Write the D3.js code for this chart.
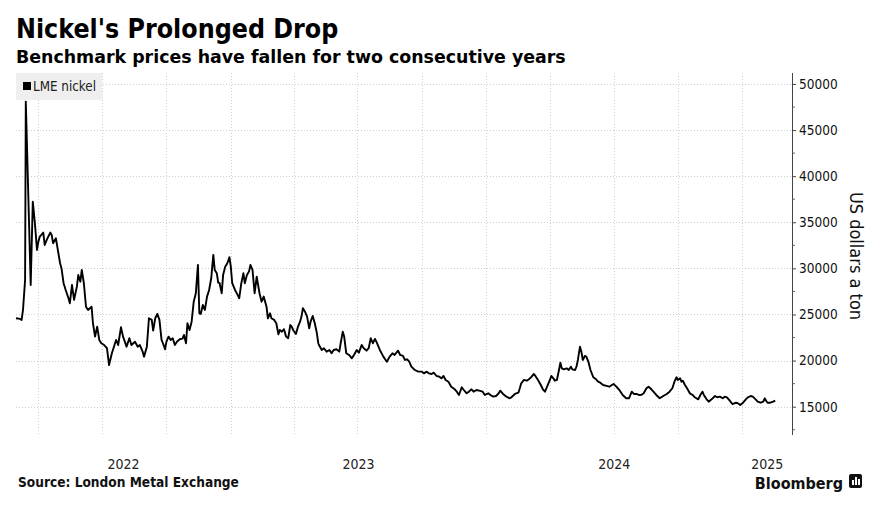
<!DOCTYPE html>
<html>
<head>
<meta charset="utf-8">
<script src="https://cdn.jsdelivr.net/npm/d3@7"></script>
<style>
  html, body { margin: 0; padding: 0; background: #fff; }
  svg { display: block; }
  .cond { font-family: "DejaVu Sans Condensed", "DejaVu Sans", sans-serif; font-stretch: condensed; }
  .norm { font-family: "DejaVu Sans", sans-serif; }
</style>
</head>
<body>
<svg id="chart" width="890" height="516"></svg>
<script>
const title = "Nickel's Prolonged Drop";
const subtitle = "Benchmark prices have fallen for two consecutive years";
const seriesName = "LME nickel";
const yAxisTitle = "US dollars a ton";
const sourceText = "Source: London Metal Exchange";

const dates = [
"2022-02-28","2022-03-06","2022-03-08","2022-03-10","2022-03-13","2022-03-14","2022-03-21","2022-03-24","2022-03-27","2022-03-30",
"2022-04-01","2022-04-03","2022-04-08","2022-04-10","2022-04-14","2022-04-18","2022-04-20","2022-04-22","2022-04-26","2022-04-28",
"2022-05-02","2022-05-04","2022-05-07","2022-05-10","2022-05-14","2022-05-16","2022-05-19","2022-05-22","2022-05-26","2022-05-28",
"2022-05-31","2022-06-02","2022-06-05","2022-06-08","2022-06-11","2022-06-16","2022-06-18","2022-06-21","2022-06-24","2022-06-27",
"2022-06-30","2022-07-04","2022-07-08","2022-07-11","2022-07-15","2022-07-18","2022-07-21","2022-07-24","2022-07-28","2022-07-31",
"2022-08-05","2022-08-09","2022-08-12","2022-08-17","2022-08-21","2022-08-24","2022-08-28","2022-08-30","2022-09-03","2022-09-06",
"2022-09-10","2022-09-12","2022-09-15","2022-09-18","2022-09-21","2022-09-24","2022-09-26","2022-09-29","2022-10-01","2022-10-04",
"2022-10-07","2022-10-10","2022-10-13","2022-10-16","2022-10-20","2022-10-24","2022-10-26","2022-10-29","2022-10-31","2022-11-03",
"2022-11-06","2022-11-09","2022-11-12","2022-11-15","2022-11-17","2022-11-19","2022-11-22","2022-11-25","2022-11-28","2022-12-01",
"2022-12-04","2022-12-07","2022-12-09","2022-12-12","2022-12-14","2022-12-16","2022-12-19","2022-12-21","2022-12-24","2022-12-27",
"2022-12-30","2023-01-01","2023-01-03","2023-01-07","2023-01-10","2023-01-13","2023-01-16","2023-01-19","2023-01-21","2023-01-24",
"2023-01-27","2023-01-29","2023-02-01","2023-02-04","2023-02-07","2023-02-11","2023-02-14","2023-02-17","2023-02-21","2023-02-23",
"2023-02-26","2023-02-28","2023-03-04","2023-03-07","2023-03-10","2023-03-12","2023-03-15","2023-03-18","2023-03-21","2023-03-24",
"2023-03-27","2023-03-29","2023-03-31","2023-04-04","2023-04-07","2023-04-10","2023-04-12","2023-04-14","2023-04-17","2023-04-20",
"2023-04-23","2023-04-25","2023-04-28","2023-05-01","2023-05-04","2023-05-06","2023-05-07","2023-05-11","2023-05-14","2023-05-18",
"2023-05-22","2023-05-25","2023-05-28","2023-06-01","2023-06-05","2023-06-07","2023-06-10","2023-06-12","2023-06-15","2023-06-19",
"2023-06-23","2023-06-26","2023-06-30","2023-07-03","2023-07-07","2023-07-10","2023-07-14","2023-07-17","2023-07-20","2023-07-23",
"2023-07-26","2023-07-28","2023-08-02","2023-08-07","2023-08-12","2023-08-16","2023-08-20","2023-08-23","2023-08-28","2023-08-31",
"2023-09-04","2023-09-07","2023-09-10","2023-09-13","2023-09-16","2023-09-21","2023-09-26","2023-10-01","2023-10-04","2023-10-08",
"2023-10-11","2023-10-15","2023-10-18","2023-10-22","2023-10-26","2023-10-29","2023-11-01","2023-11-04","2023-11-08","2023-11-12",
"2023-11-17","2023-11-20","2023-11-23","2023-11-27","2023-11-30","2023-12-04","2023-12-07","2023-12-11","2023-12-14","2023-12-18",
"2023-12-22","2023-12-27","2023-12-30","2024-01-04","2024-01-07","2024-01-11","2024-01-15","2024-01-18","2024-01-21","2024-01-25",
"2024-01-30","2024-02-03","2024-02-06","2024-02-11","2024-02-16","2024-02-18","2024-02-20","2024-02-24","2024-02-28","2024-03-02",
"2024-03-06","2024-03-09","2024-03-12","2024-03-15","2024-03-19","2024-03-22","2024-03-25","2024-03-28","2024-04-01","2024-04-03",
"2024-04-06","2024-04-08","2024-04-11","2024-04-14","2024-04-16","2024-04-18","2024-04-21","2024-04-25","2024-04-28","2024-05-01",
"2024-05-03","2024-05-07","2024-05-09","2024-05-11","2024-05-14","2024-05-16","2024-05-18","2024-05-21","2024-05-23","2024-05-26",
"2024-05-29","2024-06-02","2024-06-06","2024-06-09","2024-06-12","2024-06-16","2024-06-21","2024-06-25","2024-06-28","2024-07-01",
"2024-07-05","2024-07-10","2024-07-14","2024-07-19","2024-07-23","2024-07-27","2024-07-30","2024-08-03","2024-08-06","2024-08-10",
"2024-08-13","2024-08-17","2024-08-20","2024-08-24","2024-08-27","2024-08-31","2024-09-05","2024-09-10","2024-09-15","2024-09-19",
"2024-09-23","2024-09-26","2024-09-29","2024-10-01","2024-10-04","2024-10-06","2024-10-08","2024-10-11","2024-10-14","2024-10-18",
"2024-10-22","2024-10-25","2024-10-30","2024-11-02","2024-11-05","2024-11-07","2024-11-11","2024-11-14","2024-11-18","2024-11-23",
"2024-11-26","2024-11-30","2024-12-04","2024-12-07","2024-12-10","2024-12-14","2024-12-18","2024-12-23","2024-12-26","2024-12-29",
"2025-01-02","2025-01-06","2025-01-09","2025-01-13","2025-01-16","2025-01-20","2025-01-23","2025-01-27","2025-01-31","2025-02-02",
"2025-02-04","2025-02-06","2025-02-10","2025-02-14","2025-02-17"
];

const prices = [
24590,24520,24400,25490,28750,48090,28200,37240,34900,32000,
32900,33450,33880,32540,33270,33880,33630,32730,33270,32360,
30560,30020,28390,27660,26760,26220,28200,26580,28020,29290,
28560,29830,28390,25850,25490,25850,24050,22600,23680,22240,
21880,21690,21340,19520,20790,21510,22240,21690,23610,22600,
21510,22420,21690,22050,21510,21690,20970,20430,21510,24590,
24410,23250,24590,25060,24410,22240,21880,21230,22050,22600,
22240,22420,21690,22050,22310,22380,22780,21880,24050,23320,
24220,26390,27300,30370,25130,25060,26030,25490,26940,27660,
28930,31460,29830,29470,28460,28390,27300,29290,30190,30560,
31210,30190,28390,27660,27230,26760,28390,29470,28390,29290,
29650,30370,29830,27300,29110,27300,26390,26940,25850,24590,
25130,24590,24410,24050,22860,23320,23140,23400,22600,22420,
23860,23680,23320,22890,23680,24220,24770,25680,25310,24770,
23510,24220,24840,24050,22960,21880,21690,21150,21340,20970,
21150,20790,21150,21230,20970,21880,23140,22600,20790,20610,
20250,20610,21150,20860,21690,21340,21080,21340,22420,21880,
22350,22050,21150,20430,19880,20430,20790,20610,21080,20610,
20500,20070,20140,19880,19340,18980,18800,18800,18620,18800,
18620,18550,18690,18330,18260,18080,18330,17900,17710,17170,
16890,16630,16270,17100,16810,16450,16630,16890,16630,16810,
16740,16630,16270,16450,16270,16090,16160,16380,16740,16380,
16090,15910,16020,16380,16520,17000,17540,17900,17820,17970,
18260,18550,18260,17900,17350,16890,16630,17170,17900,18330,
18080,17820,17900,18980,19770,19160,19050,19160,18980,19340,
19050,18980,19340,20070,21510,20970,20070,20500,20430,19880,
18980,18190,17970,17710,17600,17350,17250,17170,17320,17460,
17170,16740,16270,15910,15910,16630,16380,16380,16270,16300,
16450,17000,17170,16890,16630,16270,15910,16160,16380,16630,
17000,17710,18190,17900,18080,17710,17820,17350,17000,16450,
16270,16020,15800,16270,16630,16270,15800,15540,15800,16160,
16020,16090,15910,16090,16020,15650,15290,15430,15360,15180,
15430,15800,16020,16160,16090,15800,15540,15430,15540,15910,
15650,15430,15430,15540,15650
];

const xDomain = ["2022-02-28", "2025-03-13"];
const yDomain = [11930, 51190];
const yTickValues = [15000, 20000, 25000, 30000, 35000, 40000, 45000, 50000];
const yMinorTickValues = [12500, 17500, 22500, 27500, 32500, 37500, 42500, 47500];
const yearLabels = ["2022", "2023", "2024", "2025"];

const parse = d3.utcParse("%Y-%m-%d");
const data = dates.map((d, i) => ({ date: parse(d), value: prices[i] }));

const svg = d3.select("#chart");
const W = 890, H = 516;
const plot = { left: 16, right: 792, top: 73, bottom: 435 };

svg.append("rect").attr("width", W).attr("height", H).attr("fill", "#fff");

const x = d3.scaleUtc().domain(xDomain.map(parse)).range([plot.left, plot.right]);
const y = d3.scaleLinear().domain(yDomain).range([plot.bottom, plot.top]);

// Titles
svg.append("text").attr("class", "cond")
  .attr("x", 16).attr("y", 38)
  .attr("font-size", 26.5).attr("font-weight", "bold").attr("fill", "#000")
  .text(title);
svg.append("text").attr("class", "norm")
  .attr("x", 16).attr("y", 63)
  .attr("font-size", 17.4).attr("font-weight", "bold").attr("fill", "#000")
  .text(subtitle);

// Gridlines
const grid = svg.append("g");
grid.selectAll("line.h").data(yTickValues).join("line")
  .attr("class", "h")
  .attr("x1", plot.left).attr("x2", plot.right)
  .attr("y1", d => Math.round(y(d)) + 0.5).attr("y2", d => Math.round(y(d)) + 0.5)
  .attr("stroke", "#cfcfcf").attr("stroke-width", 1).attr("stroke-dasharray", "1,2");

const quarters = d3.utcMonth.every(3).range(x.domain()[0], x.domain()[1]);
grid.selectAll("line.v").data(quarters).join("line")
  .attr("class", "v")
  .attr("x1", d => Math.round(x(d)) + 0.5).attr("x2", d => Math.round(x(d)) + 0.5)
  .attr("y1", plot.top).attr("y2", plot.bottom)
  .attr("stroke", "#cfcfcf").attr("stroke-width", 1).attr("stroke-dasharray", "1,2");

// Legend
const leg = svg.append("g");
leg.append("rect").attr("x", 16).attr("y", 73).attr("width", 86).attr("height", 27).attr("fill", "#efefef");
leg.append("rect").attr("x", 23).attr("y", 82).attr("width", 8).attr("height", 8).attr("fill", "#000");
leg.append("text").attr("class", "cond")
  .attr("x", 33).attr("y", 90.5).attr("font-size", 13.3).attr("fill", "#222")
  .text(seriesName);

// Line
const line = d3.line().x(d => x(d.date)).y(d => y(d.value)).curve(d3.curveLinear);
svg.append("path").datum(data)
  .attr("d", line)
  .attr("fill", "none").attr("stroke", "#000").attr("stroke-width", 1.9)
  .attr("stroke-linejoin", "round");

// Right Y axis
const yAxisG = svg.append("g").attr("transform", `translate(${plot.right},0)`);
const yAxis = d3.axisRight(y).tickValues(yTickValues).tickSize(4).tickPadding(3).tickFormat(d3.format("d"));
yAxisG.call(yAxis);
yAxisG.select(".domain").attr("stroke", "#444").attr("d", `M0.5,${plot.top}V${plot.bottom}`);
yAxisG.selectAll(".tick line").attr("stroke", "#444");
yAxisG.selectAll(".tick text").attr("class", "cond").attr("font-size", 13.5).attr("fill", "#111");
yAxisG.selectAll("line.minor").data(yMinorTickValues).join("line")
  .attr("class", "minor")
  .attr("x1", 0.5).attr("x2", 3)
  .attr("y1", d => y(d)).attr("y2", d => y(d))
  .attr("stroke", "#666");

// Y axis title
svg.append("text").attr("class", "cond")
  .attr("transform", `translate(850,${(plot.top + plot.bottom) / 2 + 2}) rotate(90)`)
  .attr("text-anchor", "middle").attr("font-size", 18).attr("fill", "#111")
  .text(yAxisTitle);

// Year labels centered on visible part of each year
const [d0, d1] = x.domain();
svg.append("g").selectAll("text").data(yearLabels).join("text")
  .attr("class", "cond")
  .attr("x", yr => {
    const s = new Date(Math.max(d0, Date.UTC(+yr, 0, 1)));
    const e = new Date(Math.min(d1, Date.UTC(+yr + 1, 0, 1)));
    return (x(s) + x(e)) / 2;
  })
  .attr("y", 469).attr("text-anchor", "middle")
  .attr("font-size", 14).attr("fill", "#222")
  .text(d => d);

// Footer
svg.append("text").attr("class", "cond")
  .attr("x", 18).attr("y", 487).attr("font-size", 13.6).attr("font-weight", "bold").attr("fill", "#111")
  .text(sourceText);
svg.append("text").attr("class", "cond")
  .attr("x", 843).attr("y", 489).attr("text-anchor", "end")
  .attr("font-size", 16).attr("font-weight", "bold").attr("fill", "#111")
  .text("Bloomberg");
const logo = svg.append("g").attr("transform", "translate(849,474)");
logo.append("rect").attr("width", 13).attr("height", 14).attr("rx", 2).attr("fill", "#111");
[[3, 6, 2, 5], [6, 3, 2, 8], [9, 5, 2, 6]].forEach(([bx, by, bw, bh]) =>
  logo.append("rect").attr("x", bx).attr("y", by).attr("width", bw).attr("height", bh).attr("fill", "#fff"));
</script>
</body>
</html>
